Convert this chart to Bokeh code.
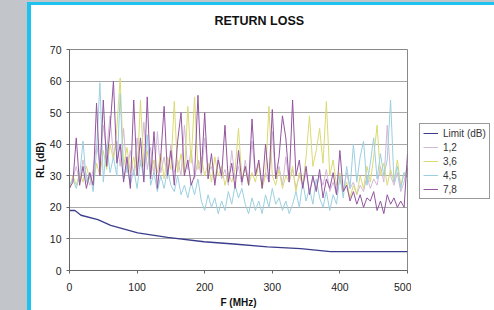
from bokeh.plotting import figure
from bokeh.models import Legend, LegendItem, FixedTicker
from bokeh.layouts import row
from bokeh.embed import file_html
from bokeh.resources import INLINE

freq = list(range(0, 505, 5))

limit_f = [0, 8, 17, 42, 61, 81, 101, 145, 199, 243, 293, 342, 386, 500]
limit_db = [19.0, 19.0, 17.5, 16.1, 14.3, 13.1, 11.9, 10.5, 9.1, 8.4, 7.5, 6.9, 6.0, 6.0]

pair_12 = [27, 29, 33, 28, 35, 30, 27, 32, 40, 34, 46, 38, 49, 36, 41, 33, 45, 31, 38, 30,
           42, 33, 47, 32, 39, 30, 44, 31, 36, 29, 40, 31, 35, 30, 46, 32, 38, 29, 35, 30,
           42, 31, 33, 28, 36, 29, 32, 27, 38, 29, 33, 27, 35, 28, 41, 30, 34, 27, 31, 28,
           44, 29, 33, 27, 36, 28, 32, 26, 30, 27, 31, 25, 29, 26, 30, 27, 32, 25, 28, 24,
           29, 25, 31, 26, 28, 24, 27, 25, 30, 26, 29, 27, 33, 28, 46, 30, 27, 31, 25, 28, 34]
pair_36 = [26, 30, 27, 31, 28, 33, 29, 27, 34, 30, 38, 32, 40, 35, 45, 61, 33, 39, 31, 36,
           30, 54, 33, 38, 30, 35, 31, 37, 29, 36, 32, 53.6, 31, 37, 30, 52, 34, 55, 32, 36,
           30, 34, 28, 36, 30, 33, 27, 31, 28, 32, 45, 29, 33, 27, 31, 28, 34, 26, 30, 52,
           30, 27, 32, 26, 30, 28, 33, 25, 31, 27, 36, 49, 33, 38, 45, 34, 53.5, 30, 35, 27,
           31, 25, 28, 23, 27, 24, 30, 26, 33, 28, 36, 46, 30, 34, 27, 32, 28, 35, 27, 31, 29]
pair_45 = [27, 29, 26, 30, 41, 28, 31, 25, 38, 59.5, 28, 40, 31, 36, 30, 56, 29, 33, 27, 32,
           26, 35, 29, 43, 27, 31, 25, 30, 26, 32, 27, 25, 30, 24, 27, 23, 28, 24, 29, 22,
           19, 24, 20, 23, 18, 22, 19, 25, 21, 27, 23, 26, 21, 18, 23, 19, 22, 18, 24, 20,
           26, 21, 23, 19, 22, 18, 21, 25, 20, 28, 22, 26, 21, 29, 23, 20, 25, 19, 24, 21,
           30, 23, 33, 26, 40, 28, 36, 41, 27, 34, 42, 29, 37, 30, 35, 54, 28, 33, 26, 31, 29]
pair_78 = [26, 28, 42, 27, 33, 26, 31, 27, 53, 30, 54, 33, 45, 60, 34, 40, 28, 36, 26, 54,
           30, 42, 28, 55, 29, 44, 26, 36, 52, 30, 38, 27, 41, 50, 30, 35, 27, 30, 55.5, 31,
           50, 29, 37, 27, 35, 30, 46, 28, 34, 26, 38, 28, 33, 27, 48, 30, 35, 26, 40, 28,
           51, 29, 36, 49, 42, 28, 54, 30, 35, 26, 33, 24, 30, 25, 32, 23, 29, 26, 31, 24,
           38, 25, 27, 22, 25, 21, 24, 20, 23, 22, 25, 19, 22, 18, 24, 21, 23, 20, 22, 20, 37]

series_names = ["1,2", "3,6", "4,5", "7,8"]
series_vals = [pair_12, pair_36, pair_45, pair_78]
series_colors = ["#d2b9d8", "#dada74", "#9ccfe0", "#93559f"]
limit_name = "Limit (dB)"
limit_color = "#3b3d8c"
y_ticks = [0, 10, 20, 30, 40, 50, 60, 70]
x_ticks = [0, 100, 200, 300, 400, 500]

FONT = "Liberation Sans"
H = 305

p = figure(width=380, height=H, x_range=(0, 500), y_range=(0, 70),
           output_backend="svg", toolbar_location=None,
           min_border_left=37, min_border_right=4, min_border_top=44, min_border_bottom=37)

# a second, blank line below the title lifts it well above the frame
p.title.text = "RETURN LOSS\n "
p.title.align = "left"
p.title.offset = 145
p.title.vertical_align = "top"
p.title.standoff = 12
p.title.text_font = FONT
p.title.text_font_size = "12.5px"
p.title.text_font_style = "bold"
p.title.text_color = "#111111"

p.line(limit_f, limit_db, line_color=limit_color, line_width=1.3)
for vals, col in zip(series_vals, series_colors):
    p.line(freq, vals, line_color=col, line_width=1.0)

p.xgrid.grid_line_color = None
p.ygrid.grid_line_color = "#a8a8a8"
p.ygrid.grid_line_width = 1
p.outline_line_color = "#888888"
p.background_fill_color = "white"
p.border_fill_color = "white"

p.xaxis.ticker = FixedTicker(ticks=x_ticks)
p.yaxis.ticker = FixedTicker(ticks=y_ticks)
for ax in (p.xaxis[0], p.yaxis[0]):
    ax.axis_line_color = "#666666"
    ax.major_tick_line_color = "#666666"
    ax.major_tick_in = 0
    ax.major_tick_out = 3
    ax.minor_tick_line_color = None
    ax.major_label_text_font = FONT
    ax.major_label_text_font_size = "10.5px"
    ax.major_label_text_color = "#222222"
    ax.axis_label_text_font = FONT
    ax.axis_label_text_font_size = "10px"
    ax.axis_label_text_font_style = "bold"
    ax.axis_label_text_color = "#111111"
p.xaxis.axis_label = "F (MHz)"
p.yaxis.axis_label = "RL (dB)"
p.xaxis.major_label_standoff = 9
p.yaxis.major_label_standoff = 5
p.xaxis.axis_label_standoff = 3
p.yaxis.axis_label_standoff = 1

# legend panel: a small figure whose ranges lie away from the data,
# so that only its legend is seen
leg = figure(width=83, height=H, x_range=(-20, -10), y_range=(-20, -10),
             output_backend="svg", toolbar_location=None,
             x_axis_location=None, y_axis_location=None,
             min_border_left=0, min_border_right=0, min_border_top=0, min_border_bottom=0)
leg.grid.visible = False
leg.outline_line_color = None
leg.background_fill_color = "white"
leg.border_fill_color = "white"

items = []
r = leg.line(limit_f, limit_db, line_color=limit_color, line_width=1.0)
items.append(LegendItem(label=limit_name, renderers=[r]))
for name, vals, col in zip(series_names, series_vals, series_colors):
    r = leg.line(freq, vals, line_color=col, line_width=1.0)
    items.append(LegendItem(label=name, renderers=[r]))

legend = Legend(items=items, location=(8, 71),
                label_text_font=FONT, label_text_font_size="10px", label_text_color="#333333",
                glyph_width=15, glyph_height=12, label_height=12, spacing=2,
                padding=3, margin=0, border_line_color="#333333", border_line_width=1,
                background_fill_color="white", background_fill_alpha=1,
                label_standoff=5)
leg.add_layout(legend, "center")

layout = row(p, leg, spacing=0)
layout.styles = {"margin-left": "27px",
                 "margin-top": "2px",
                 "border-left": "4px solid #1ec2ee",
                 "border-top": "3px solid #1ec2ee",
                 "box-shadow": "0px 0px 0px 40px #c2c5c9"}

open("out.html", "w").write(file_html(layout, INLINE))
